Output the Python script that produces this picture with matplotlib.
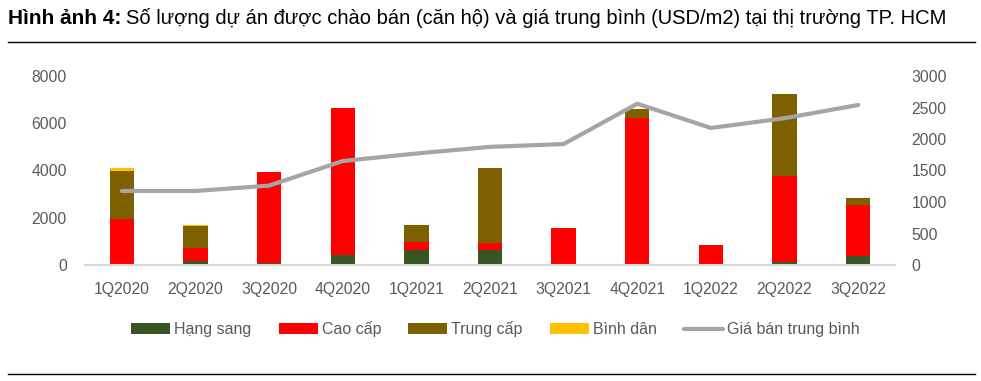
import numpy as np
import matplotlib
matplotlib.use("Agg")
import matplotlib.pyplot as plt

plt.rcParams['font.family'] = ['Liberation Sans', 'DejaVu Sans']

quarters = ["1Q2020", "2Q2020", "3Q2020", "4Q2020", "1Q2021", "2Q2021",
            "3Q2021", "4Q2021", "1Q2022", "2Q2022", "3Q2022"]
hang_sang = [0, 150, 100, 420, 650, 650, 0, 0, 0, 140, 400]
cao_cap = [1950, 590, 3830, 6230, 340, 300, 1580, 6230, 860, 3640, 2140]
trung_cap = [2030, 890, 0, 0, 720, 3160, 0, 370, 0, 3470, 310]
binh_dan = [120, 60, 0, 0, 0, 0, 0, 0, 0, 0, 0]
gia_ban = [1175, 1175, 1260, 1650, 1770, 1875, 1920, 2560, 2175, 2330, 2540]

grey = "#595959"
fig = plt.figure(figsize=(9.81, 3.81), dpi=100)
ax = fig.add_axes([85/981, 1 - 265/381, 810/981, 189/381])
ax2 = ax.twinx()

x = np.arange(len(quarters))
w = 0.33
b1 = np.array(hang_sang)
b2 = b1 + np.array(cao_cap)
b3 = b2 + np.array(trung_cap)
ax.bar(x, hang_sang, w, color="#375623", label="Hạng sang", zorder=2)
ax.bar(x, cao_cap, w, bottom=b1, color="#ff0000", label="Cao cấp", zorder=2)
ax.bar(x, trung_cap, w, bottom=b2, color="#7f6000", label="Trung cấp", zorder=2)
ax.bar(x, binh_dan, w, bottom=b3, color="#ffc000", label="Bình dân", zorder=2)
ax2.plot(x, gia_ban, color="#a5a5a5", lw=3, label="Giá bán trung bình",
         solid_capstyle="round", solid_joinstyle="miter")

ax.set_xlim(-0.5, len(quarters) - 0.5)
ax.set_ylim(0, 8000)
ax2.set_ylim(0, 3000)
ax.set_yticks(range(0, 8001, 2000))
ax2.set_yticks(range(0, 3001, 500))
ax.set_xticks(x)
ax.set_xticklabels(quarters)

for a in (ax, ax2):
    for s in a.spines.values():
        s.set_visible(False)
    a.tick_params(length=0, labelsize=11.3, colors=grey)
ax.spines["bottom"].set_visible(True)
ax.spines["bottom"].set_color("#d9d9d9")
ax.spines["bottom"].set_linewidth(1.5)
ax.tick_params(axis="x", pad=12)
ax.tick_params(axis="y", pad=13)
ax2.tick_params(axis="y", pad=12)

h1, l1 = ax.get_legend_handles_labels()
h2, l2 = ax2.get_legend_handles_labels()
fig.legend(h1 + h2, l1 + l2, loc="center", bbox_to_anchor=(0.505, 1 - 329/381),
           ncol=5, frameon=False, fontsize=11.5, labelcolor=grey,
           handlelength=2.45, handleheight=0.63, handletextpad=0.25, columnspacing=1.7)

t1 = fig.text(8/981, 1 - 18/381, "Hình ảnh 4:", fontsize=15, fontweight="bold", va="center")
fig.canvas.draw()
bb = t1.get_window_extent()
fig.text((bb.x1 + 5)/981, 1 - 18/381,
         "Số lượng dự án được chào bán (căn hộ) và giá trung bình (USD/m2) tại thị trường TP. HCM",
         fontsize=14.5, va="center")
fig.add_artist(plt.Line2D([8/981, 975/981], [1 - 42/381] * 2, color="black", lw=1))
fig.add_artist(plt.Line2D([8/981, 975/981], [1 - 374/381] * 2, color="black", lw=1))

fig.savefig("out.png", dpi=100)
